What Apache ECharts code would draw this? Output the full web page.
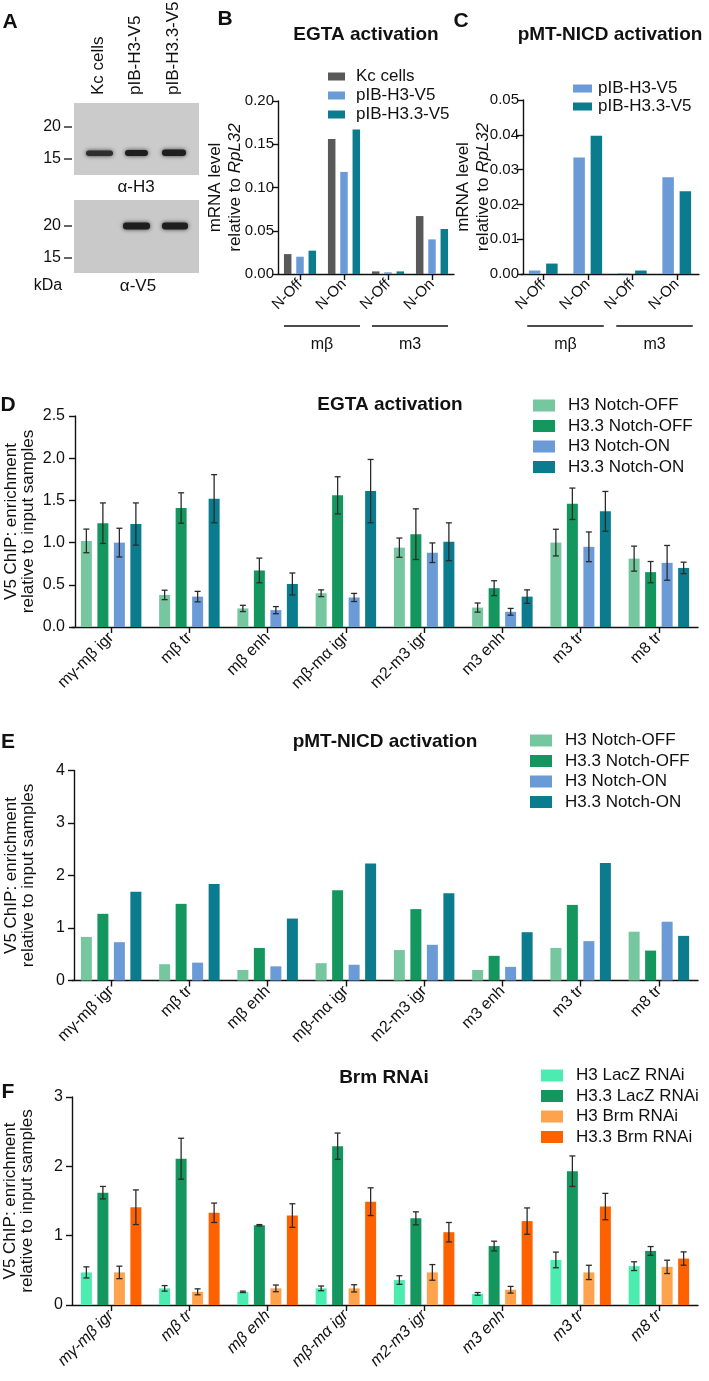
<!DOCTYPE html>
<html><head><meta charset="utf-8">
<script src="https://cdn.jsdelivr.net/npm/echarts/dist/echarts.min.js"></script>
<style>html,body{margin:0;padding:0;background:#fff}#c{width:709px;height:1381px}</style>
</head><body><div id="c"></div>
<script>
// ---------- data ----------
var bcLabels = ['N-Off', 'N-On', 'N-Off', 'N-On'];
var bcGroups = ['mβ', 'm3'];
var bKc   = [0.023, 0.156, 0.003, 0.067];
var bH3   = [0.020, 0.118, 0.002, 0.040];
var bH33  = [0.027, 0.167, 0.003, 0.052];
var cH3   = [0.001, 0.0335, 0.0002, 0.0278];
var cH33  = [0.003, 0.0397, 0.001, 0.0238];
var bTicks = [0, 0.05, 0.10, 0.15, 0.20];
var cTicks = [0, 0.01, 0.02, 0.03, 0.04, 0.05];

var regions = ['mγ-mβ igr', 'mβ tr', 'mβ enh', 'mβ-mα igr', 'm2-m3 igr', 'm3 enh', 'm3 tr', 'm8 tr'];
var dTicks = [0, 0.5, 1, 1.5, 2, 2.5];
var eTicks = [0, 1, 2, 3, 4];
var fTicks = [0, 1, 2, 3];

var dH3off     = [1.02, 0.38, 0.22, 0.40, 0.94, 0.23, 1.00, 0.81];
var dH3offErr  = [0.14, 0.056, 0.037, 0.04, 0.114, 0.054, 0.158, 0.148];
var dH33off    = [1.23, 1.41, 0.67, 1.56, 1.10, 0.46, 1.46, 0.65];
var dH33offErr = [0.24, 0.18, 0.146, 0.22, 0.30, 0.088, 0.186, 0.126];
var dH3on      = [1.00, 0.36, 0.20, 0.35, 0.88, 0.18, 0.95, 0.76];
var dH3onErr   = [0.17, 0.062, 0.042, 0.048, 0.116, 0.04, 0.176, 0.206];
var dH33on     = [1.22, 1.52, 0.51, 1.61, 1.01, 0.36, 1.37, 0.70];
var dH33onErr  = [0.25, 0.285, 0.13, 0.375, 0.224, 0.08, 0.236, 0.068];

var eH3off  = [0.83, 0.31, 0.20, 0.33, 0.58, 0.20, 0.62, 0.93];
var eH33off = [1.27, 1.46, 0.62, 1.72, 1.36, 0.47, 1.44, 0.57];
var eH3on   = [0.73, 0.34, 0.27, 0.30, 0.68, 0.26, 0.75, 1.12];
var eH33on  = [1.69, 1.84, 1.18, 2.23, 1.66, 0.92, 2.24, 0.85];

var fH3lacz     = [0.47, 0.24, 0.19, 0.24, 0.36, 0.16, 0.65, 0.56];
var fH3laczErr  = [0.08, 0.04, 0.01, 0.034, 0.062, 0.02, 0.113, 0.063];
var fH33lacz    = [1.62, 2.11, 1.15, 2.29, 1.25, 0.85, 1.93, 0.78];
var fH33laczErr = [0.09, 0.295, 0.01, 0.19, 0.094, 0.07, 0.22, 0.063];
var fH3brm      = [0.47, 0.19, 0.24, 0.24, 0.47, 0.22, 0.47, 0.55];
var fH3brmErr   = [0.09, 0.043, 0.048, 0.052, 0.113, 0.048, 0.103, 0.096];
var fH33brm     = [1.41, 1.33, 1.29, 1.49, 1.05, 1.21, 1.42, 0.67];
var fH33brmErr  = [0.25, 0.14, 0.17, 0.2, 0.14, 0.19, 0.19, 0.096];

// ---------- styles ----------
var FONT = 'Liberation Sans, Arial, Helvetica, sans-serif';
var INK = '#111';
var col = {
  kc: '#595959', h3v5: '#6b9bd6', h33v5: '#0b7b8e',
  h3off: '#76c7a0', h33off: '#14975f', h3on: '#6b9bd6', h33on: '#0b7b8e',
  h3lacz: '#4cecb0', h33lacz: '#14975f', h3brm: '#fea24c', h33brm: '#fe6200'
};

var chart = echarts.init(document.getElementById('c'), null, {renderer: 'canvas'});

function xAx(gi, labels, italic, fs) {
  return {
    gridIndex: gi, type: 'category', data: labels.map(function (_, i) { return String(i); }),
    boundaryGap: true,
    axisLine: {show: true, lineStyle: {color: INK, width: 1.4}},
    axisTick: {show: true, alignWithLabel: true, interval: 0, length: 6, lineStyle: {color: INK, width: 1.4}},
    axisLabel: {show: true, interval: 0, rotate: 45, fontSize: fs, color: INK, margin: 8, fontFamily: FONT,
      fontStyle: italic ? 'italic' : 'normal',
      formatter: function (v, i) { return labels[i]; }},
    splitLine: {show: false}
  };
}
function yAx(gi, ticks, dec, labelSize, margin, name, nameGap, offset, nameSize, nameLH, rich) {
  return {
    gridIndex: gi, type: 'value', min: ticks[0], max: ticks[ticks.length - 1],
    interval: ticks[1] - ticks[0], offset: offset,
    axisLine: {show: true, lineStyle: {color: INK, width: 1.4}},
    axisTick: {show: true, length: 6, lineStyle: {color: INK, width: 1.4}},
    axisLabel: {fontSize: labelSize, color: INK, margin: margin, fontFamily: FONT,
      formatter: function (v) { return v.toFixed(dec); }},
    splitLine: {show: false},
    name: name, nameLocation: 'middle', nameRotate: 90, nameGap: nameGap, nameMoveOverlap: false,
    nameTextStyle: {fontSize: nameSize, color: INK, lineHeight: nameLH, fontFamily: FONT, rich: rich || {}}
  };
}
function bar(gi, name, data, color, bw, gap) {
  return {type: 'bar', name: name, xAxisIndex: gi, yAxisIndex: gi, data: data, barWidth: bw, barGap: gap,
    itemStyle: {color: color}, emphasis: {disabled: true}, z: 2, silent: true};
}
function errBars(gi, vals, errs, offset) {
  return {
    type: 'custom', xAxisIndex: gi, yAxisIndex: gi, z: 5, silent: true,
    data: vals.map(function (v, i) { return [i, v, errs[i]]; }),
    renderItem: function (params, api) {
      var i = api.value(0), v = api.value(1), e = api.value(2);
      var t = api.coord([i, v + e]), b = api.coord([i, v - e]);
      var x = t[0] + offset, cap = 3;
      var st = {stroke: '#2b2b2b', lineWidth: 1.3};
      return {type: 'group', children: [
        {type: 'line', shape: {x1: x, y1: t[1], x2: x, y2: b[1]}, style: st},
        {type: 'line', shape: {x1: x - cap, y1: t[1], x2: x + cap, y2: t[1]}, style: st},
        {type: 'line', shape: {x1: x - cap, y1: b[1], x2: x + cap, y2: b[1]}, style: st}
      ]};
    }
  };
}
function legend(left, top, names, iw, ih, gap, pad) {
  return {orient: 'vertical', left: left, top: top, itemWidth: iw, itemHeight: ih, itemGap: gap,
    icon: 'rect', data: names, selectedMode: false, padding: 0,
    textStyle: {fontSize: 17, color: INK, lineHeight: 17, fontFamily: FONT, padding: [0, 0, 0, pad]}};
}
function ttl(text, cx, top) {
  return {text: text, left: cx, top: top, textAlign: 'center', padding: 0,
    textStyle: {fontSize: 19, fontWeight: 'bold', color: INK, fontFamily: FONT}};
}

var BW = 11, GAP = '50%', PITCH = 16.5;
var dNames = ['H3 Notch-OFF', 'H3.3 Notch-OFF', 'H3 Notch-ON', 'H3.3 Notch-ON'];
var fNames = ['H3 LacZ RNAi', 'H3.3 LacZ RNAi', 'H3 Brm RNAi', 'H3.3 Brm RNAi'];
var chipName = 'V5 ChIP: enrichment\nrelative to input samples';
var mrnaName = 'mRNA level\nrelative to {i|RpL32}';
var mrnaRich = {i: {fontStyle: 'italic', fontSize: 17, fontFamily: FONT, color: INK}};

var option = {
  animation: false,
  textStyle: {fontFamily: FONT},
  grid: [
    {left: 278, top: 101, width: 176, height: 173, outerBoundsMode: 'none'},
    {left: 521, top: 100, width: 178, height: 174, outerBoundsMode: 'none'},
    {left: 72, top: 416, width: 626, height: 211, outerBoundsMode: 'none'},
    {left: 72, top: 770.5, width: 626, height: 210, outerBoundsMode: 'none'},
    {left: 72, top: 1097, width: 626, height: 208, outerBoundsMode: 'none'}
  ],
  xAxis: [
    xAx(0, bcLabels, false, 15),
    xAx(1, bcLabels, false, 15),
    xAx(2, regions, false, 16),
    xAx(3, regions, false, 16),
    xAx(4, regions, true, 16)
  ],
  yAxis: [
    yAx(0, bTicks, 2, 15, 4, mrnaName, 33, 0, 17, 20, mrnaRich),
    yAx(1, cTicks, 2, 15, 4, mrnaName, 30, -2, 17, 20, mrnaRich),
    yAx(2, dTicks, 1, 16, 10, chipName, 38, -3, 17, 17),
    yAx(3, eTicks, 0, 16, 9, chipName, 37, -2, 17, 17),
    yAx(4, fTicks, 0, 16, 9, chipName, 36, 0, 17, 17)
  ],
  legend: [
    legend(328, 68, ['Kc cells', 'pIB-H3-V5', 'pIB-H3.3-V5'], 17, 8, 2, 6),
    legend(573, 80, ['pIB-H3-V5', 'pIB-H3.3-V5'], 19, 8, 1, 1),
    legend(533, 397, dNames, 22, 12, 3.5, 8),
    legend(530, 732, dNames, 22, 12, 3.5, 8),
    legend(541, 1067, fNames, 22, 12, 3.5, 8)
  ],
  title: [
    ttl('EGTA activation', 366, 25),
    ttl('pMT-NICD activation', 610, 25),
    ttl('EGTA activation', 390, 395),
    ttl('pMT-NICD activation', 385, 732),
    ttl('Brm RNAi', 384, 1068)
  ],
  series: [
    bar(0, 'Kc cells', bKc, col.kc, 7.5, '64%'),
    bar(0, 'pIB-H3-V5', bH3, col.h3v5, 7.5, '64%'),
    bar(0, 'pIB-H3.3-V5', bH33, col.h33v5, 7.5, '64%'),
    bar(1, 'pIB-H3-V5', cH3, col.h3v5, 11.5, '50%'),
    bar(1, 'pIB-H3.3-V5', cH33, col.h33v5, 11.5, '50%'),

    bar(2, dNames[0], dH3off, col.h3off, BW, GAP),
    bar(2, dNames[1], dH33off, col.h33off, BW, GAP),
    bar(2, dNames[2], dH3on, col.h3on, BW, GAP),
    bar(2, dNames[3], dH33on, col.h33on, BW, GAP),
    errBars(2, dH3off, dH3offErr, -1.5 * PITCH),
    errBars(2, dH33off, dH33offErr, -0.5 * PITCH),
    errBars(2, dH3on, dH3onErr, 0.5 * PITCH),
    errBars(2, dH33on, dH33onErr, 1.5 * PITCH),

    bar(3, dNames[0], eH3off, col.h3off, BW, GAP),
    bar(3, dNames[1], eH33off, col.h33off, BW, GAP),
    bar(3, dNames[2], eH3on, col.h3on, BW, GAP),
    bar(3, dNames[3], eH33on, col.h33on, BW, GAP),

    bar(4, fNames[0], fH3lacz, col.h3lacz, BW, GAP),
    bar(4, fNames[1], fH33lacz, col.h33lacz, BW, GAP),
    bar(4, fNames[2], fH3brm, col.h3brm, BW, GAP),
    bar(4, fNames[3], fH33brm, col.h33brm, BW, GAP),
    errBars(4, fH3lacz, fH3laczErr, -1.5 * PITCH),
    errBars(4, fH33lacz, fH33laczErr, -0.5 * PITCH),
    errBars(4, fH3brm, fH3brmErr, 0.5 * PITCH),
    errBars(4, fH33brm, fH33brmErr, 1.5 * PITCH)
  ]
};
chart.setOption(option);

// ---------- annotations (panel letters, blot, group brackets) ----------
function txt(x, y, s, size, opts) {
  opts = opts || {};
  return {type: 'text', x: x, y: y, rotation: opts.rot || 0, silent: true, z: 10,
    style: {text: s, fontSize: size, fontWeight: opts.bold ? 'bold' : 'normal', fontFamily: FONT, fill: INK,
      textAlign: opts.align || 'center', textVerticalAlign: 'middle'}};
}
function ln(x1, y1, x2, y2, w) {
  return {type: 'line', silent: true, z: 10, shape: {x1: x1, y1: y1, x2: x2, y2: y2}, style: {stroke: INK, lineWidth: w || 1.3}};
}
function band(x, y, w, h, c) {
  return {type: 'rect', silent: true, z: 11, shape: {x: x, y: y, width: w, height: h, r: 3},
    style: {fill: c || '#1e1e1e', shadowBlur: 4, shadowColor: 'rgba(0,0,0,0.7)'}};
}
var g = [];
g.push(txt(10, 22, 'A', 21, {bold: true}));
g.push(txt(225, 19, 'B', 21, {bold: true}));
g.push(txt(461, 21, 'C', 21, {bold: true}));
g.push(txt(8, 405, 'D', 21, {bold: true}));
g.push(txt(8, 742, 'E', 21, {bold: true}));
g.push(txt(8, 1092, 'F', 21, {bold: true}));
// western blot
g.push({type: 'rect', silent: true, z: 9, shape: {x: 74, y: 103, width: 125, height: 72}, style: {fill: '#cbcbcb'}});
g.push({type: 'rect', silent: true, z: 9, shape: {x: 74, y: 200, width: 125, height: 73}, style: {fill: '#c9c9c9'}});
g.push(band(86, 150.5, 27, 5.5, '#2e2e2e'));
g.push(band(125, 150, 23, 6));
g.push(band(162, 149.5, 24, 6.5));
g.push(band(123, 222.5, 27, 7));
g.push(band(162, 222.5, 26, 7));
g.push(ln(64, 127, 72, 127)); g.push(ln(64, 159, 72, 159));
g.push(ln(64, 226, 72, 226)); g.push(ln(64, 258, 72, 258));
g.push(txt(61, 127, '20', 16, {align: 'right'}));
g.push(txt(61, 159, '15', 16, {align: 'right'}));
g.push(txt(61, 226, '20', 16, {align: 'right'}));
g.push(txt(61, 258, '15', 16, {align: 'right'}));
g.push(txt(136, 187, 'α-H3', 17));
g.push(txt(138, 286, 'α-V5', 17));
g.push(txt(48, 286, 'kDa', 16));
g.push(txt(98, 95, 'Kc cells', 17, {rot: Math.PI / 2, align: 'left'}));
g.push(txt(135, 95, 'pIB-H3-V5', 17, {rot: Math.PI / 2, align: 'left'}));
g.push(txt(173, 95, 'pIB-H3.3-V5', 17, {rot: Math.PI / 2, align: 'left'}));
// group brackets under B and C
[0, 1].forEach(function (ai) {
  for (var k = 0; k < 2; k++) {
    var x0 = chart.convertToPixel({xAxisIndex: ai}, String(2 * k));
    var x1 = chart.convertToPixel({xAxisIndex: ai}, String(2 * k + 1));
    g.push(ln(x0 - 16, 326, x1 + 16, 326));
    g.push(txt((x0 + x1) / 2, 345, bcGroups[k], 16));
  }
});
chart.setOption({graphic: g});
</script></body></html>
